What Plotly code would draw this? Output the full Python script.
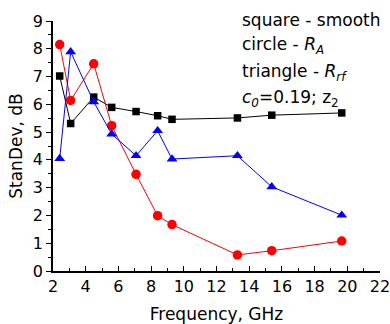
import plotly.graph_objects as go

freq = [2.41, 3.08, 4.49, 5.59, 7.08, 8.40, 9.28, 13.28, 15.38, 19.66]
smooth = [7.02, 5.31, 6.26, 5.89, 5.74, 5.59, 5.46, 5.51, 5.61, 5.69]
r_a = [8.15, 6.14, 7.46, 5.23, 3.48, 1.99, 1.67, 0.58, 0.73, 1.08]
r_rf = [4.05, 7.89, 6.09, 4.93, 4.15, 5.05, 4.03, 4.15, 3.03, 2.01]

labels = [
    "square - smooth",
    "circle - <i>R</i><sub><i>A</i></sub>",
    "triangle - <i>R</i><sub><i>rf</i></sub>",
    "<i>c</i><sub><i>0</i></sub>=0.19; z<sub>2</sub>",
]

FONT = "DejaVu Sans"

fig = go.Figure()
fig.add_trace(go.Scatter(x=freq, y=smooth, mode="lines+markers",
                         line=dict(color="black", width=1),
                         marker=dict(symbol="square", size=7.5, color="black")))
fig.add_trace(go.Scatter(x=freq, y=r_a, mode="lines+markers",
                         line=dict(color="red", width=1),
                         marker=dict(symbol="circle", size=9.5, color="red")))
fig.add_trace(go.Scatter(x=freq, y=r_rf, mode="lines+markers",
                         line=dict(color="blue", width=1),
                         marker=dict(symbol="triangle-up", size=9.5, color="blue")))

W, H = 390, 324
ml, mr, mt, mb = 53, 10, 21, 53
pw, ph = W - ml - mr, H - mt - mb

for i, t in enumerate(labels):
    px, py = 240, 20 + 26 * i
    fig.add_annotation(x=(px - ml) / pw, y=1 - (py - mt) / ph,
                       xref="paper", yref="paper", text=t,
                       showarrow=False, xanchor="left", yanchor="middle",
                       font=dict(size=17, color="black", family=FONT))

fig.update_layout(
    width=W, height=H,
    margin=dict(l=ml, r=mr, t=mt, b=mb, autoexpand=False),
    paper_bgcolor="white", plot_bgcolor="white",
    showlegend=False,
    font=dict(family=FONT, size=16, color="black"),
    xaxis=dict(range=[2, 22], dtick=2, tick0=2, showgrid=False, zeroline=False,
               showline=True, linecolor="black", linewidth=1.5,
               ticks="inside", ticklen=5, tickcolor="black",
               ticklabeloverflow="allow", automargin=False,
               minor=dict(ticks="inside", ticklen=3, dtick=1, tickcolor="black"),
               title=dict(text="Frequency, GHz", font=dict(size=17), standoff=19)),
    yaxis=dict(range=[0, 9], dtick=1, showgrid=False, zeroline=False,
               showline=True, linecolor="black", linewidth=1.5,
               ticks="outside", ticklen=5, tickcolor="black", automargin=False,
               minor=dict(ticks="outside", ticklen=3, dtick=0.5, tickcolor="black"),
               title=dict(text="StanDev, dB", font=dict(size=17), standoff=6)),
)

fig.write_html("out.html", config={"displayModeBar": False},
               post_script="document.body.style.margin='0';document.body.style.padding='0';")
